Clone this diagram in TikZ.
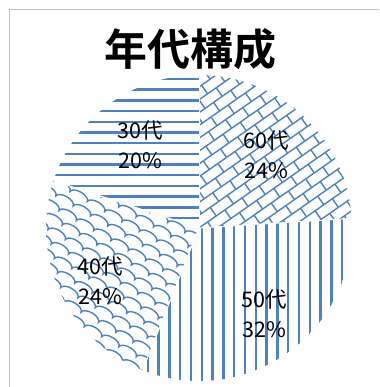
\documentclass[tikz,border=0pt]{standalone}
\usepackage{fontspec}
\newfontfamily\jpfont{Noto Sans CJK JP}
\newfontfamily\titlefont{Noto Sans CJK JP Bold}
\definecolor{patblue}{HTML}{4F81BD}

\tikzset{
    stripe/.style={patblue, line width=2.4pt},
    brick/.style={patblue, line width=1.4pt},
    agelabel/.style={font=\jpfont\fontsize{21.5}{30}\selectfont, align=center, text=black},
}

\begin{document}
\begin{tikzpicture}[x=1pt,y=1pt]
    \useasboundingbox (0,0) rectangle (379,387);

    % frame and title
    \draw[gray!50, line width=1pt] (9,0) -- (9,377) -- (379,377);
    \node[font=\titlefont\fontsize{43}{43}\selectfont] (title) at (190,338) {年代構成};
    \coordinate (c) at (199,159);

    % 30 : horizontal stripes
    \begin{scope}
        \clip (c) -- ++(90:153) arc[start angle=90, end angle=162, radius=153pt] -- cycle;
        \foreach \k in {0,...,15} {
            \draw[stripe] (40,308-10.7*\k) -- (210,308-10.7*\k);};
    \end{scope}

    % 60 : diagonal brick
    \begin{scope}
        \clip (c) -- ++(90:153) arc[start angle=90, end angle=3.6, radius=153pt] -- cycle;
        \begin{scope}[shift={(c)}, rotate=35]
            \foreach \k in {-16,...,16} {
                \draw[brick] (-170,10.5*\k) -- (170,10.5*\k);
                \foreach \j in {-9,...,9} {
                    \draw[brick] ({21*\j+10.5*Mod(\k,2)},{10.5*\k}) -- ++(0,10.5);};};
        \end{scope}
    \end{scope}

    % 50 : vertical stripes
    \begin{scope}
        \clip (c) -- ++(3.6:153) arc[start angle=3.6, end angle=-111.6, radius=153pt] -- cycle;
        \foreach \k in {-6,...,14} {
            \draw[stripe] (201.7+10.8*\k,0) -- (201.7+10.8*\k,170);};
    \end{scope}

    % 40 : shingle
    \begin{scope}
        \clip (c) -- ++(-111.6:153) arc[start angle=-111.6, end angle=-198, radius=153pt] -- cycle;
        \begin{scope}[shift={(c)}, rotate=-30]
            \foreach \k in {-16,...,16} {
                \draw[brick] ({-180+10*Mod(\k,2)},{11*\k})
                    \foreach \j in {1,...,18} {arc[start angle=180, end angle=0, x radius=10, y radius=5]};};
        \end{scope}
    \end{scope}

    % slice borders
    \foreach \a in {90,3.6,-111.6,162} {
        \draw[white, line width=1pt] (c) -- ++(\a:153);};

    % labels
    \node[agelabel] (s30) at (140,242) {30代\\20\%};
    \node[agelabel] (s60) at (266,232.5) {60代\\24\%};
    \node[agelabel] (s40) at (100,106) {40代\\24\%};
    \node[agelabel] (s50) at (264,73.5) {50代\\32\%};

\end{tikzpicture}
\end{document}
